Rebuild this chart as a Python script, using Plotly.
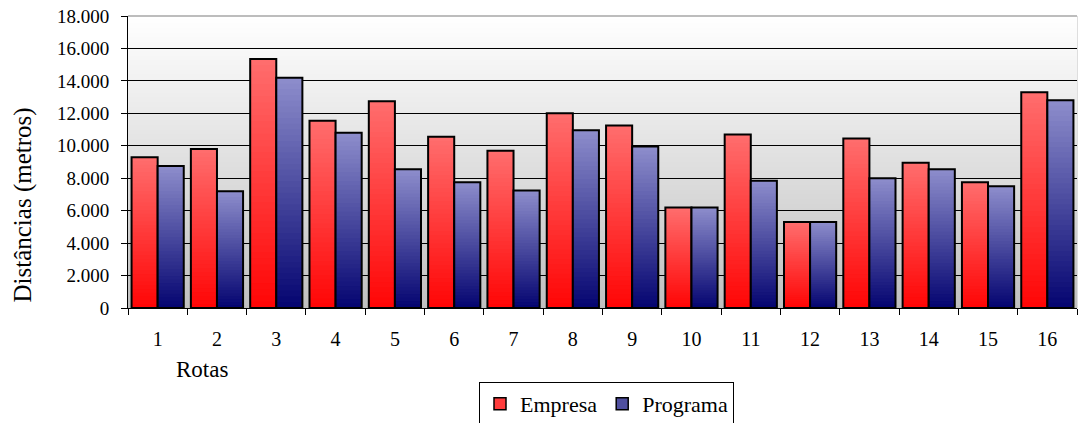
import base64
import struct
import zlib
import plotly.graph_objects as go

# ---------------- data ----------------
rotas = [str(i) for i in range(1, 17)]
empresa = [9300, 9800, 15350, 11550, 12750, 10550, 9700, 12000,
           11250, 6200, 10700, 5300, 10450, 8950, 7750, 13300]
programa = [8750, 7200, 14200, 10800, 8550, 7750, 7250, 10950,
            9950, 6200, 7850, 5300, 8000, 8550, 7500, 12800]
y_ticks = [0, 2000, 4000, 6000, 8000, 10000, 12000, 14000, 16000, 18000]

SERIF = "Liberation Serif"

# gradient end colours (top, bottom)
RED_TOP, RED_BOT = (255, 110, 110), (255, 5, 5)
BLUE_TOP, BLUE_BOT = (142, 142, 204), (4, 4, 112)
BG_TOP, BG_BOT = (255, 255, 255), (192, 192, 192)


def mix(c1, c2, t):
    return tuple(round(c1[i] + (c2[i] - c1[i]) * t) for i in range(3))


def rgb(c):
    return "rgb(%d,%d,%d)" % c


def png_gradient(h, top, bottom, w=4):
    raw = b""
    for i in range(h):
        c = mix(top, bottom, i / (h - 1))
        raw += b"\x00" + bytes(c) * w

    def chunk(tag, data):
        return (struct.pack(">I", len(data)) + tag + data
                + struct.pack(">I", zlib.crc32(tag + data) & 0xFFFFFFFF))

    png = (b"\x89PNG\r\n\x1a\n"
           + chunk(b"IHDR", struct.pack(">IIBBBBB", w, h, 8, 2, 0, 0, 0))
           + chunk(b"IDAT", zlib.compress(raw, 9))
           + chunk(b"IEND", b""))
    return "data:image/png;base64," + base64.b64encode(png).decode()


fig = go.Figure()

N = 40


def add_series(name, values, top, bottom, group, legend_color):
    # gradient: overlapping bars, tallest (lightest top colour) first
    for k in range(N):
        frac = (N - k) / N
        col = mix(bottom, top, frac - 0.5 / N)
        fig.add_trace(go.Bar(
            x=rotas, y=[v * frac for v in values],
            offsetgroup=group, showlegend=False, hoverinfo="skip",
            marker=dict(color=rgb(col), line=dict(width=0)),
        ))
    # outline
    fig.add_trace(go.Bar(
        x=rotas, y=values, offsetgroup=group, showlegend=False, name=name,
        marker=dict(color="rgba(0,0,0,0)", line=dict(color="black", width=2)),
    ))
    # legend entry
    fig.add_trace(go.Bar(
        x=rotas, y=[None] * len(rotas), offsetgroup=group, name=name,
        showlegend=True, hoverinfo="skip",
        marker=dict(color=legend_color, line=dict(color="black", width=1.5)),
    ))


add_series("Empresa", empresa, RED_TOP, RED_BOT, "emp", "#ff3c3c")
add_series("Programa", programa, BLUE_TOP, BLUE_BOT, "prog", "#5050a0")

fig.update_layout(
    width=1078, height=423,
    margin=dict(l=128, r=1, t=16, b=115),
    paper_bgcolor="white",
    plot_bgcolor="rgba(0,0,0,0)",
    separators=",.",
    barmode="group",
    bargap=0.12,
    bargroupgap=0.0,
    font=dict(family=SERIF, color="black"),
    showlegend=True,
    legend=dict(
        orientation="h",
        xref="container", yref="container",
        x=479 / 1078, xanchor="left",
        y=1 - 382 / 423, yanchor="top",
        bordercolor="black", borderwidth=1, bgcolor="white",
        font=dict(family=SERIF, size=22, color="black"),
        traceorder="normal",
        itemwidth=30,
    ),
    xaxis=dict(
        type="category",
        showgrid=False,
        showline=True, linecolor="black", linewidth=1,
        ticks="outside", tickson="boundaries", ticklen=6,
        tickcolor="black", tickwidth=1,
        tickfont=dict(family=SERIF, size=20, color="black"),
        ticklabelstandoff=13,
        zeroline=False,
    ),
    yaxis=dict(
        range=[0, 18000],
        tickvals=y_ticks,
        tickformat=",d",
        showgrid=True, gridcolor="black", gridwidth=1,
        showline=True, linecolor="black", linewidth=1,
        ticks="outside", ticklen=6, tickcolor="black", tickwidth=1,
        tickfont=dict(family=SERIF, size=19, color="black"),
        ticklabelstandoff=8,
        zeroline=False,
    ),
    images=[dict(
        source=png_gradient(292, BG_TOP, BG_BOT),
        xref="x domain", yref="y domain",
        x=0, y=1, sizex=1, sizey=1,
        xanchor="left", yanchor="top",
        sizing="stretch", layer="below",
    )],
    shapes=[
        dict(type="line", xref="x domain", yref="y domain",
             x0=0, x1=1, y0=1, y1=1,
             line=dict(color="#bdbdbd", width=2), layer="above"),
        dict(type="line", xref="x domain", yref="y domain",
             x0=1, x1=1, y0=0, y1=1,
             line=dict(color="#bdbdbd", width=1), layer="below"),
    ],
    annotations=[
        dict(text="Distâncias (metros)", textangle=-90,
             xref="paper", yref="paper",
             x=(22.5 - 128) / 949, y=(308 - 205) / 292,
             xanchor="center", yanchor="middle", showarrow=False,
             font=dict(family=SERIF, size=25, color="black")),
        dict(text="Rotas",
             xref="paper", yref="paper",
             x=(202 - 128) / 949, y=(308 - 369) / 292,
             xanchor="center", yanchor="middle", showarrow=False,
             font=dict(family=SERIF, size=23, color="black")),
    ],
)

fig.write_html("out.html", config={"displayModeBar": False})
